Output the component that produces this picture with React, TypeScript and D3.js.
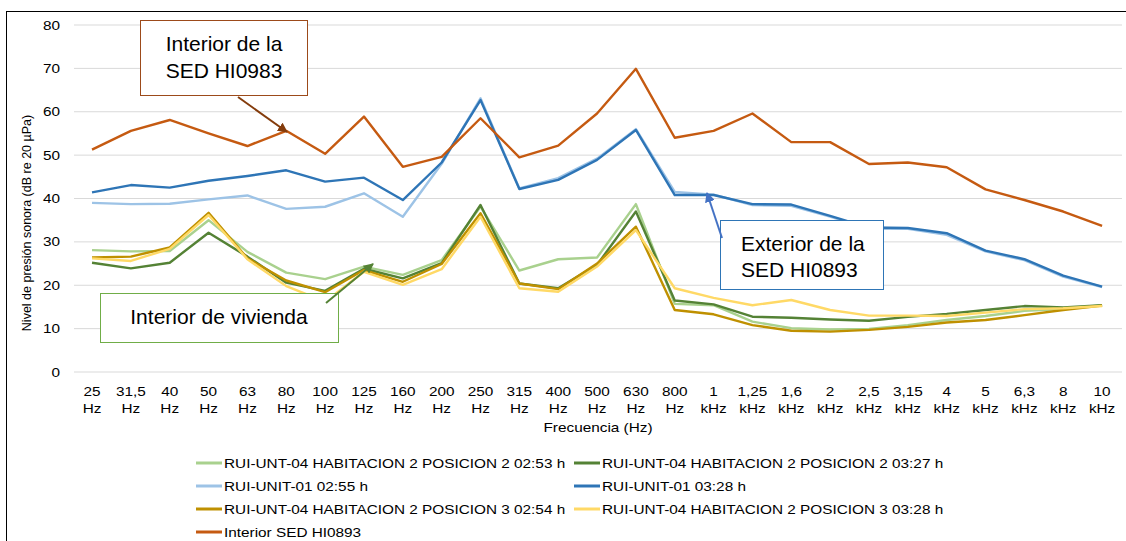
import React from "react";
import * as d3 from "d3";

// frequency bands (two-line tick labels)
const freqTop = ["25", "31,5", "40", "50", "63", "80", "100", "125", "160", "200", "250", "315", "400", "500", "630", "800",
  "1", "1,25", "1,6", "2", "2,5", "3,15", "4", "5", "6,3", "8", "10"];
const freqUnit = ["Hz", "Hz", "Hz", "Hz", "Hz", "Hz", "Hz", "Hz", "Hz", "Hz", "Hz", "Hz", "Hz", "Hz", "Hz", "Hz",
  "kHz", "kHz", "kHz", "kHz", "kHz", "kHz", "kHz", "kHz", "kHz", "kHz", "kHz"];
const yTicks = [0, 10, 20, 30, 40, 50, 60, 70, 80];

const pos2_0253 = [28.1, 27.8, 27.9, 35.0, 27.7, 22.9, 21.4, 24.3, 22.4, 25.8, 38.1, 23.4, 26.0, 26.4, 38.7, 15.7, 15.4,
  11.6, 10.1, 9.8, 9.9, 10.8, 12.0, 12.9, 14.1, 14.5, 15.4];
const pos2_0327 = [25.2, 23.9, 25.2, 32.1, 26.6, 20.6, 18.7, 23.8, 21.6, 25.1, 38.5, 20.4, 19.3, 24.7, 37.0, 16.5, 15.6,
  12.75, 12.5, 12.1, 11.8, 12.7, 13.4, 14.3, 15.2, 14.9, 15.4];
const unit01_0255 = [39.0, 38.7, 38.8, 39.8, 40.7, 37.6, 38.1, 41.2, 35.8, 48.0, 63.1, 42.3, 44.7, 49.2, 56.0, 41.5, 40.9,
  38.5, 38.3, 35.8, 33.0, 33.0, 31.6, 27.8, 25.8, 22.0, 19.6];
const unit01_0328 = [41.4, 43.1, 42.5, 44.1, 45.2, 46.5, 43.9, 44.8, 39.65, 48.3, 62.7, 42.2, 44.3, 48.9, 55.8, 40.8, 40.8,
  38.7, 38.6, 36.0, 33.3, 33.2, 32.0, 28.0, 26.0, 22.2, 19.7];
const pos3_0254 = [26.4, 26.6, 28.7, 36.7, 26.2, 21.1, 18.4, 23.5, 20.8, 24.9, 36.6, 20.4, 19.1, 25.0, 33.5, 14.3, 13.3,
  10.8, 9.5, 9.3, 9.7, 10.4, 11.4, 12.0, 13.1, 14.3, 15.3];
const pos3_0328 = [26.2, 25.6, 28.4, 36.2, 26.0, 19.8, 16.2, 23.1, 20.1, 23.7, 35.8, 19.3, 18.5, 24.3, 32.7, 19.3, 17.1,
  15.4, 16.6, 14.3, 13.0, 13.0, 12.9, 13.7, 14.5, 14.7, 15.2];
const interiorSed = [51.25, 55.6, 58.1, 55.0, 52.1, 55.6, 50.3, 58.9, 47.3, 49.6, 58.5, 49.5, 52.2, 59.6, 69.9, 54.0, 55.6,
  59.6, 53.0, 53.0, 47.95, 48.3, 47.2, 42.1, 39.65, 37.0, 33.7];

const series = [
  { name: "RUI-UNT-04 HABITACION 2 POSICION 2 02:53 h", color: "#A9D18E", values: pos2_0253 },
  { name: "RUI-UNT-04 HABITACION 2 POSICION 2 03:27 h", color: "#548235", values: pos2_0327 },
  { name: "RUI-UNIT-01 02:55 h", color: "#9DC3E6", values: unit01_0255 },
  { name: "RUI-UNIT-01 03:28 h", color: "#2E75B6", values: unit01_0328 },
  { name: "RUI-UNT-04 HABITACION 2 POSICION 3 02:54 h", color: "#BF9000", values: pos3_0254 },
  { name: "RUI-UNT-04 HABITACION 2 POSICION 3 03:28 h", color: "#FFD966", values: pos3_0328 },
  { name: "Interior SED HI0893", color: "#C55A11", values: interiorSed },
];

const font = "'Liberation Sans', Arial, sans-serif";
const SX = 1.18; // the source picture is stretched sideways

// horizontally stretched text
const WText = ({ x, y, anchor = "start", size = 13, children }: any) => (
  <g transform={`translate(${x},${y}) scale(${SX},1)`}>
    <text x={0} y={0} textAnchor={anchor} fontSize={size} fill="#000">{children}</text>
  </g>
);

export default function App() {
  const x = d3.scaleBand<string>().domain(freqTop.map((_, i) => String(i))).range([72.6, 1121.5]);
  const y = d3.scaleLinear().domain([0, 80]).range([372, 25]);
  const cx = (i: number) => (x(String(i)) as number) + x.bandwidth() / 2;

  const line = d3.line<number>().x((_, i) => cx(i)).y((d) => y(d));

  const legendCols = [196, 574];
  const legendRows = [463, 486, 509, 532];

  return (
    <svg width={1126} height={541} style={{ position: "absolute", left: 0, top: 0, background: "#fff" }} fontFamily={font}>
      <defs>
        <marker id="arrBrown" viewBox="0 0 10 10" refX="9" refY="5" markerWidth="5" markerHeight="5" orient="auto">
          <path d="M0,0 L10,5 L0,10 z" fill="#843C0C" />
        </marker>
        <marker id="arrGreen" viewBox="0 0 10 10" refX="9" refY="5" markerWidth="5" markerHeight="5" orient="auto">
          <path d="M0,0 L10,5 L0,10 z" fill="#548235" />
        </marker>
        <marker id="arrBlue" viewBox="0 0 10 10" refX="9" refY="5" markerWidth="5" markerHeight="5" orient="auto">
          <path d="M0,0 L10,5 L0,10 z" fill="#4472C4" />
        </marker>
      </defs>
      <rect x={6.5} y={11.5} width={1130} height={540} fill="#fff" stroke="#000" strokeWidth={1} />

      {/* grid + y labels */}
      {yTicks.map((t) => (
        <g key={t}>
          <line x1={74} x2={1122} y1={y(t)} y2={y(t)} stroke="#D9D9D9" strokeWidth={1} />
          <WText x={60} y={y(t) + 4.5} anchor="end">{t}</WText>
        </g>
      ))}

      {/* x labels */}
      {freqTop.map((f, i) => (
        <g key={i}>
          <WText x={cx(i)} y={396} anchor="middle">{f}</WText>
          <WText x={cx(i)} y={413} anchor="middle">{freqUnit[i]}</WText>
        </g>
      ))}

      <WText x={598} y={432} anchor="middle">Frecuencia (Hz)</WText>
      <text transform="translate(31,223) rotate(-90)" textAnchor="middle" fontSize={12.5}>
        Nivel de presión sonora (dB re 20 µPa)
      </text>

      {/* series */}
      {series.map((s) => (
        <path key={s.name} d={line(s.values) as string} fill="none" stroke={s.color} strokeWidth={2.4} strokeLinejoin="round" />
      ))}

      {/* annotations */}
      <rect x={140.5} y={20.5} width={167} height={75} fill="#fff" stroke="#9C4A1A" strokeWidth={1} />
      <text x={224} y={51} textAnchor="middle" fontSize={21}>Interior de la</text>
      <text x={224} y={78} textAnchor="middle" fontSize={21}>SED HI0983</text>
      <line x1={238} y1={97} x2={287} y2={132} stroke="#843C0C" strokeWidth={2} markerEnd="url(#arrBrown)" />

      <rect x={100.5} y={293.5} width={238} height={49} fill="#fff" stroke="#70AD47" strokeWidth={1} />
      <text x={219} y={324} textAnchor="middle" fontSize={21}>Interior de vivienda</text>
      <line x1={326} y1={303} x2={373} y2={264} stroke="#548235" strokeWidth={2} markerEnd="url(#arrGreen)" />

      <rect x={720.5} y={220.5} width={163} height={69} fill="#fff" stroke="#2E75B6" strokeWidth={1} />
      <text x={741} y={251} fontSize={21}>Exterior de la</text>
      <text x={741} y={277} fontSize={21}>SED HI0893</text>
      <line x1={722} y1={238} x2={707} y2={193} stroke="#4472C4" strokeWidth={2} markerEnd="url(#arrBlue)" />

      {/* legend */}
      {series.map((s, i) => {
        const col = i === 6 ? 0 : i % 2;
        const row = i === 6 ? 3 : Math.floor(i / 2);
        const lx = legendCols[col];
        const ly = legendRows[row];
        return (
          <g key={"lg" + i}>
            <line x1={lx} x2={lx + 26} y1={ly} y2={ly} stroke={s.color} strokeWidth={3} />
            <WText x={lx + 28} y={ly + 4.5}>{s.name}</WText>
          </g>
        );
      })}
    </svg>
  );
}
